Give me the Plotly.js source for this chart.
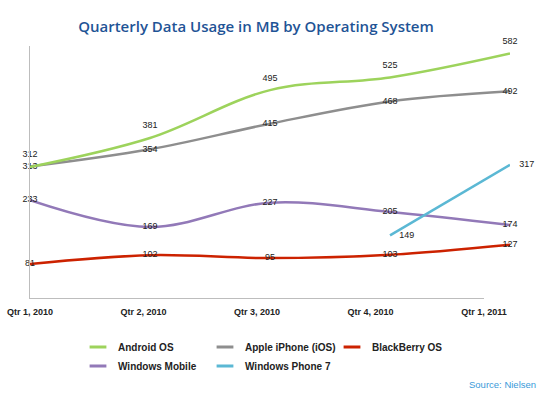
<!DOCTYPE html>
<html>
<head>
<meta charset="utf-8">
<script src="https://cdn.plot.ly/plotly-3.0.1.min.js"></script>
<style>html,body{margin:0;padding:0;background:#fff;}#chart{width:550px;height:399px;}</style>
</head>
<body>
<div id="chart"></div>
<script>
const quarters = ["Qtr 1, 2010", "Qtr 2, 2010", "Qtr 3, 2010", "Qtr 4, 2010", "Qtr 1, 2011"];
const quarterIdx = [0, 1, 2, 3, 4];
const android = [312, 381, 495, 525, 582];
const ios = [313, 354, 415, 468, 492];
const blackberry = [81, 102, 95, 103, 127];
const winMobile = [233, 169, 227, 205, 174];
const wp7Idx = [3, 4];
const wp7 = [149, 317];

const seriesNames = ["Android OS", "Apple iPhone (iOS)", "BlackBerry OS", "Windows Mobile", "Windows Phone 7"];
const seriesColors = ["#9DD35C", "#8E8E8E", "#CC2200", "#9279B8", "#5BB8D4"];

const labelFont = {family: "Liberation Sans, Arial, sans-serif", size: 9, color: "#222"};

function lineTrace(x, y, i, pos, labelGap) {
  const t = {
    x: x, y: y, type: "scatter", mode: labelGap ? "lines+markers+text" : "lines+text",
    text: y.map(String), textposition: pos, textfont: labelFont,
    line: {color: seriesColors[i], width: 2.5, shape: i === 4 ? "linear" : "spline", smoothing: 1},
    cliponaxis: false, showlegend: false, hoverinfo: "skip"
  };
  if (labelGap) t.marker = {size: labelGap, opacity: 0, color: seriesColors[i]};
  return t;
}

const data = [
  lineTrace(quarterIdx, ios, 1, "middle center"),
  lineTrace(quarterIdx, android, 0, "top center", 10),
  lineTrace(quarterIdx, winMobile, 3, "middle center"),
  lineTrace(quarterIdx, blackberry, 2, "middle center"),
  lineTrace(wp7Idx, wp7, 4, "middle right", 13)
];
// legend entries
const legendOrder = [0, 1, 2, 3, 4];
legendOrder.forEach(function(i) {
  data.push({
    x: [null], y: [null], type: "scatter", mode: "markers", name: seriesNames[i],
    xaxis: "x2",
    marker: {symbol: "line-ew", size: 12, line: {color: seriesColors[i], width: 3}},
    showlegend: true, hoverinfo: "skip"
  });
});

const layout = {
  width: 550, height: 399,
  margin: {l: 30, r: 40, t: 46, b: 101},
  paper_bgcolor: "#fff", plot_bgcolor: "rgba(0,0,0,0)",
  title: {
    text: "Quarterly Data Usage in MB by Operating System",
    font: {family: "Open Sans, sans-serif", size: 15, color: "#1F5496", weight: 600},
    xref: "container", x: 256/550, xanchor: "center",
    yref: "container", y: 1 - 27/399, yanchor: "middle"
  },
  xaxis: {range: [0, 4], showgrid: false, zeroline: false, showline: false, showticklabels: false, ticks: "", fixedrange: true},
  xaxis2: {
    domain: [0, 454/480], range: [0, 4], anchor: "y",
    tickvals: quarterIdx, ticktext: quarters,
    tickfont: {family: "Liberation Sans, Arial, sans-serif", size: 9, color: "#222", weight: "bold"},
    showgrid: false, zeroline: false, showline: true, linecolor: "#BDBDBD", linewidth: 1,
    ticks: "outside", ticklen: 5, tickcolor: "rgba(0,0,0,0)"
  },
  yaxis: {range: [0, 600], showgrid: false, zeroline: false, showline: true, linecolor: "#BDBDBD", linewidth: 1,
          showticklabels: false, ticks: ""},
  showlegend: true,
  legend: {
    orientation: "h", x: 0.1, xanchor: "left", y: -0.137, yanchor: "top",
    font: {family: "Liberation Sans, Arial, sans-serif", size: 10, color: "#222", weight: "bold"},
    entrywidth: 82, entrywidthmode: "pixels", itemclick: false, itemdoubleclick: false,
    bgcolor: "rgba(0,0,0,0)"
  },
  annotations: [{
    text: "Source: Nielsen", xref: "paper", yref: "paper",
    x: (538 - 30) / 480, xanchor: "right", y: -(384 - 298) / 252, yanchor: "middle",
    showarrow: false, font: {family: "Liberation Sans, Arial, sans-serif", size: 9.5, color: "#3A9AD9"}
  }]
};

Plotly.newPlot("chart", data, layout, {staticPlot: true, displayModeBar: false});
</script>
</body>
</html>
